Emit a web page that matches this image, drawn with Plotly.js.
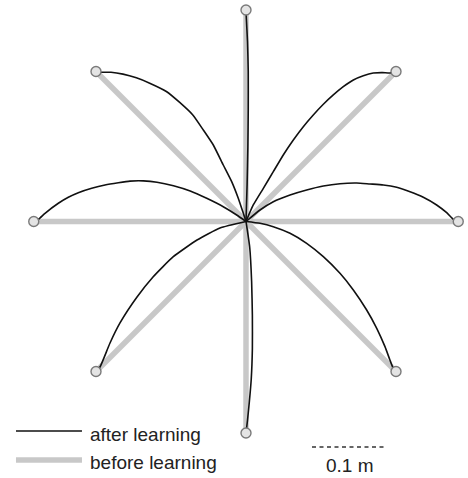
<!DOCTYPE html>
<html>
<head>
<meta charset="utf-8">
<script src="https://cdn.plot.ly/plotly-3.0.1.min.js"></script>
<style>
  html, body { margin: 0; padding: 0; background: #fff; }
  #chart { width: 468px; height: 478px; }
</style>
</head>
<body>
<div id="chart"></div>
<script>
// all positions in cm, origin = start point of the reach
const targetNames = ["N", "NE", "E", "SE", "S", "SW", "W", "NW"];
const targetX = [0, 20, 28.3, 20, 0, -20, -28.3, -20];
const targetY = [28.2, 20, 0, -20, -28.2, -20, 0, 20];

// hand paths after learning
const nX = [0, 0.15, 0.25, 0.3, 0.3, 0.2, 0.05, 0];
const nY = [0, 5, 10, 15, 20, 24, 27, 28.2];
const neX = [0, 0.97, 2.31, 3.64, 4.97, 6.31, 7.64, 8.97, 10.31, 11.64, 12.97, 14.31, 15.64, 16.97, 18.2, 19.2, 20];
const neY = [0, 2.2, 4.42, 6.64, 8.87, 10.87, 12.64, 14.2, 15.63, 16.87, 17.97, 18.87, 19.44, 19.8, 19.85, 19.8, 20];
const eX = [0, 1.87, 3.64, 5.87, 8.09, 10.31, 12.53, 14.76, 16.53, 18.31, 20.09, 21.87, 23.64, 25.42, 26.76, 27.64, 28.3];
const eY = [0, 1.53, 2.64, 3.53, 4.2, 4.73, 5.04, 5.13, 5.0, 4.87, 4.56, 3.97, 3.23, 2.2, 1.17, 0.29, 0];
const seX = [0, 1.87, 3.64, 5.87, 8.09, 10.31, 12.53, 14.31, 16.09, 17.43, 18.53, 19.2, 19.6, 20];
const seY = [0, -0.24, -0.69, -1.57, -2.91, -4.69, -6.91, -9.13, -11.8, -14.24, -16.69, -18.5, -19.5, -20];
const sX = [0, 0.5, 0.75, 0.85, 0.85, 0.7, 0.45, 0.2, 0];
const sY = [0, -3.5, -8, -12.5, -17, -21, -24, -26.5, -28.2];
const swX = [0, -3.47, -6.53, -9.73, -12.4, -14.53, -16.8, -18.13, -19.47, -20];
const swY = [0, -0.87, -2.47, -4.73, -7.4, -10.07, -13.53, -16.2, -19.4, -20];
const wX = [0, -1.24, -3.03, -5.24, -7.44, -9.67, -11.87, -13.69, -15.47, -17.02, -18.8, -20.57, -22.36, -23.69, -25.02, -26.8, -27.69, -28.3];
const wY = [0, 0.87, 1.97, 3.09, 4.07, 4.77, 5.24, 5.41, 5.38, 5.17, 4.87, 4.43, 3.84, 3.23, 2.43, 1.09, 0.29, 0];
const nwX = [0, -0.36, -1.03, -1.91, -3.03, -4.36, -5.69, -7.09, -8.84, -10.62, -12.84, -14.62, -16.4, -18.0, -19.3, -20];
const nwY = [0, 1.09, 3.09, 5.31, 7.53, 10.2, 12.2, 14.2, 15.87, 17.33, 18.44, 19.15, 19.65, 19.9, 19.9, 20];

// legend + scale bar
const legendLabels = ["after learning", "before learning"];
const legendLineX = [-30.67, -21.87];
const legendLineY = [-27.93, -31.8];
const legendTextX = -21.07;
const legendTextY = [-28.4, -32.1];
const scaleBarX = [8.8, 18.8];
const scaleBarY = -30.07;
const scaleLabel = "0.1 m";

const grey = "#c8c8c8";
const black = "#111";
const font = { family: "Liberation Sans, Arial, sans-serif", size: 19, color: "#222" };

const traces = [];

// before learning: straight lines to each target
targetX.forEach((tx, i) => {
  traces.push({
    type: "scatter", mode: "lines", hoverinfo: "skip", showlegend: false,
    x: [0, tx], y: [0, targetY[i]],
    line: { color: grey, width: 5.5 },
  });
});

// after learning
const afterPaths = [[nX, nY], [neX, neY], [eX, eY], [seX, seY], [sX, sY], [swX, swY], [wX, wY], [nwX, nwY]];
afterPaths.forEach(([xs, ys], i) => {
  traces.push({
    type: "scatter", mode: "lines", name: targetNames[i], showlegend: false,
    x: xs, y: ys,
    line: { color: black, width: 1.6, shape: "spline", smoothing: 0.5 },
  });
});

// targets
traces.push({
  type: "scatter", mode: "markers", showlegend: false, hoverinfo: "skip",
  x: targetX, y: targetY,
  marker: { symbol: "circle", size: 10, color: "#e4e4e4", line: { color: "#7a7a7a", width: 1.4 } },
});

// legend samples
traces.push({
  type: "scatter", mode: "lines", showlegend: false, hoverinfo: "skip",
  x: legendLineX, y: [legendLineY[0], legendLineY[0]],
  line: { color: black, width: 1.6 },
});
traces.push({
  type: "scatter", mode: "lines", showlegend: false, hoverinfo: "skip",
  x: legendLineX, y: [legendLineY[1], legendLineY[1]],
  line: { color: grey, width: 5.5 },
});

// scale bar
traces.push({
  type: "scatter", mode: "lines", showlegend: false, hoverinfo: "skip",
  x: scaleBarX, y: [scaleBarY, scaleBarY],
  line: { color: "#666", width: 2, dash: "4px,3.5px" },
});

const annotations = legendLabels.map((t, i) => ({
  text: t, x: legendTextX, y: legendTextY[i], xref: "x", yref: "y",
  xanchor: "left", yanchor: "middle", showarrow: false, font,
}));
annotations.push({
  text: scaleLabel, x: (scaleBarX[0] + scaleBarX[1]) / 2, y: -32.5, xref: "x", yref: "y",
  xanchor: "center", yanchor: "middle", showarrow: false, font,
});

const layout = {
  width: 468, height: 478,
  margin: { t: 0, l: 0, r: 0, b: 0 },
  paper_bgcolor: "#fff", plot_bgcolor: "#fff",
  xaxis: { range: [-32.8, 29.6], visible: false, showgrid: false, zeroline: false },
  yaxis: { range: [-34.2, 29.53], visible: false, showgrid: false, zeroline: false },
  annotations,
  showlegend: false,
};

Plotly.newPlot("chart", traces, layout, { staticPlot: true });
</script>
</body>
</html>
